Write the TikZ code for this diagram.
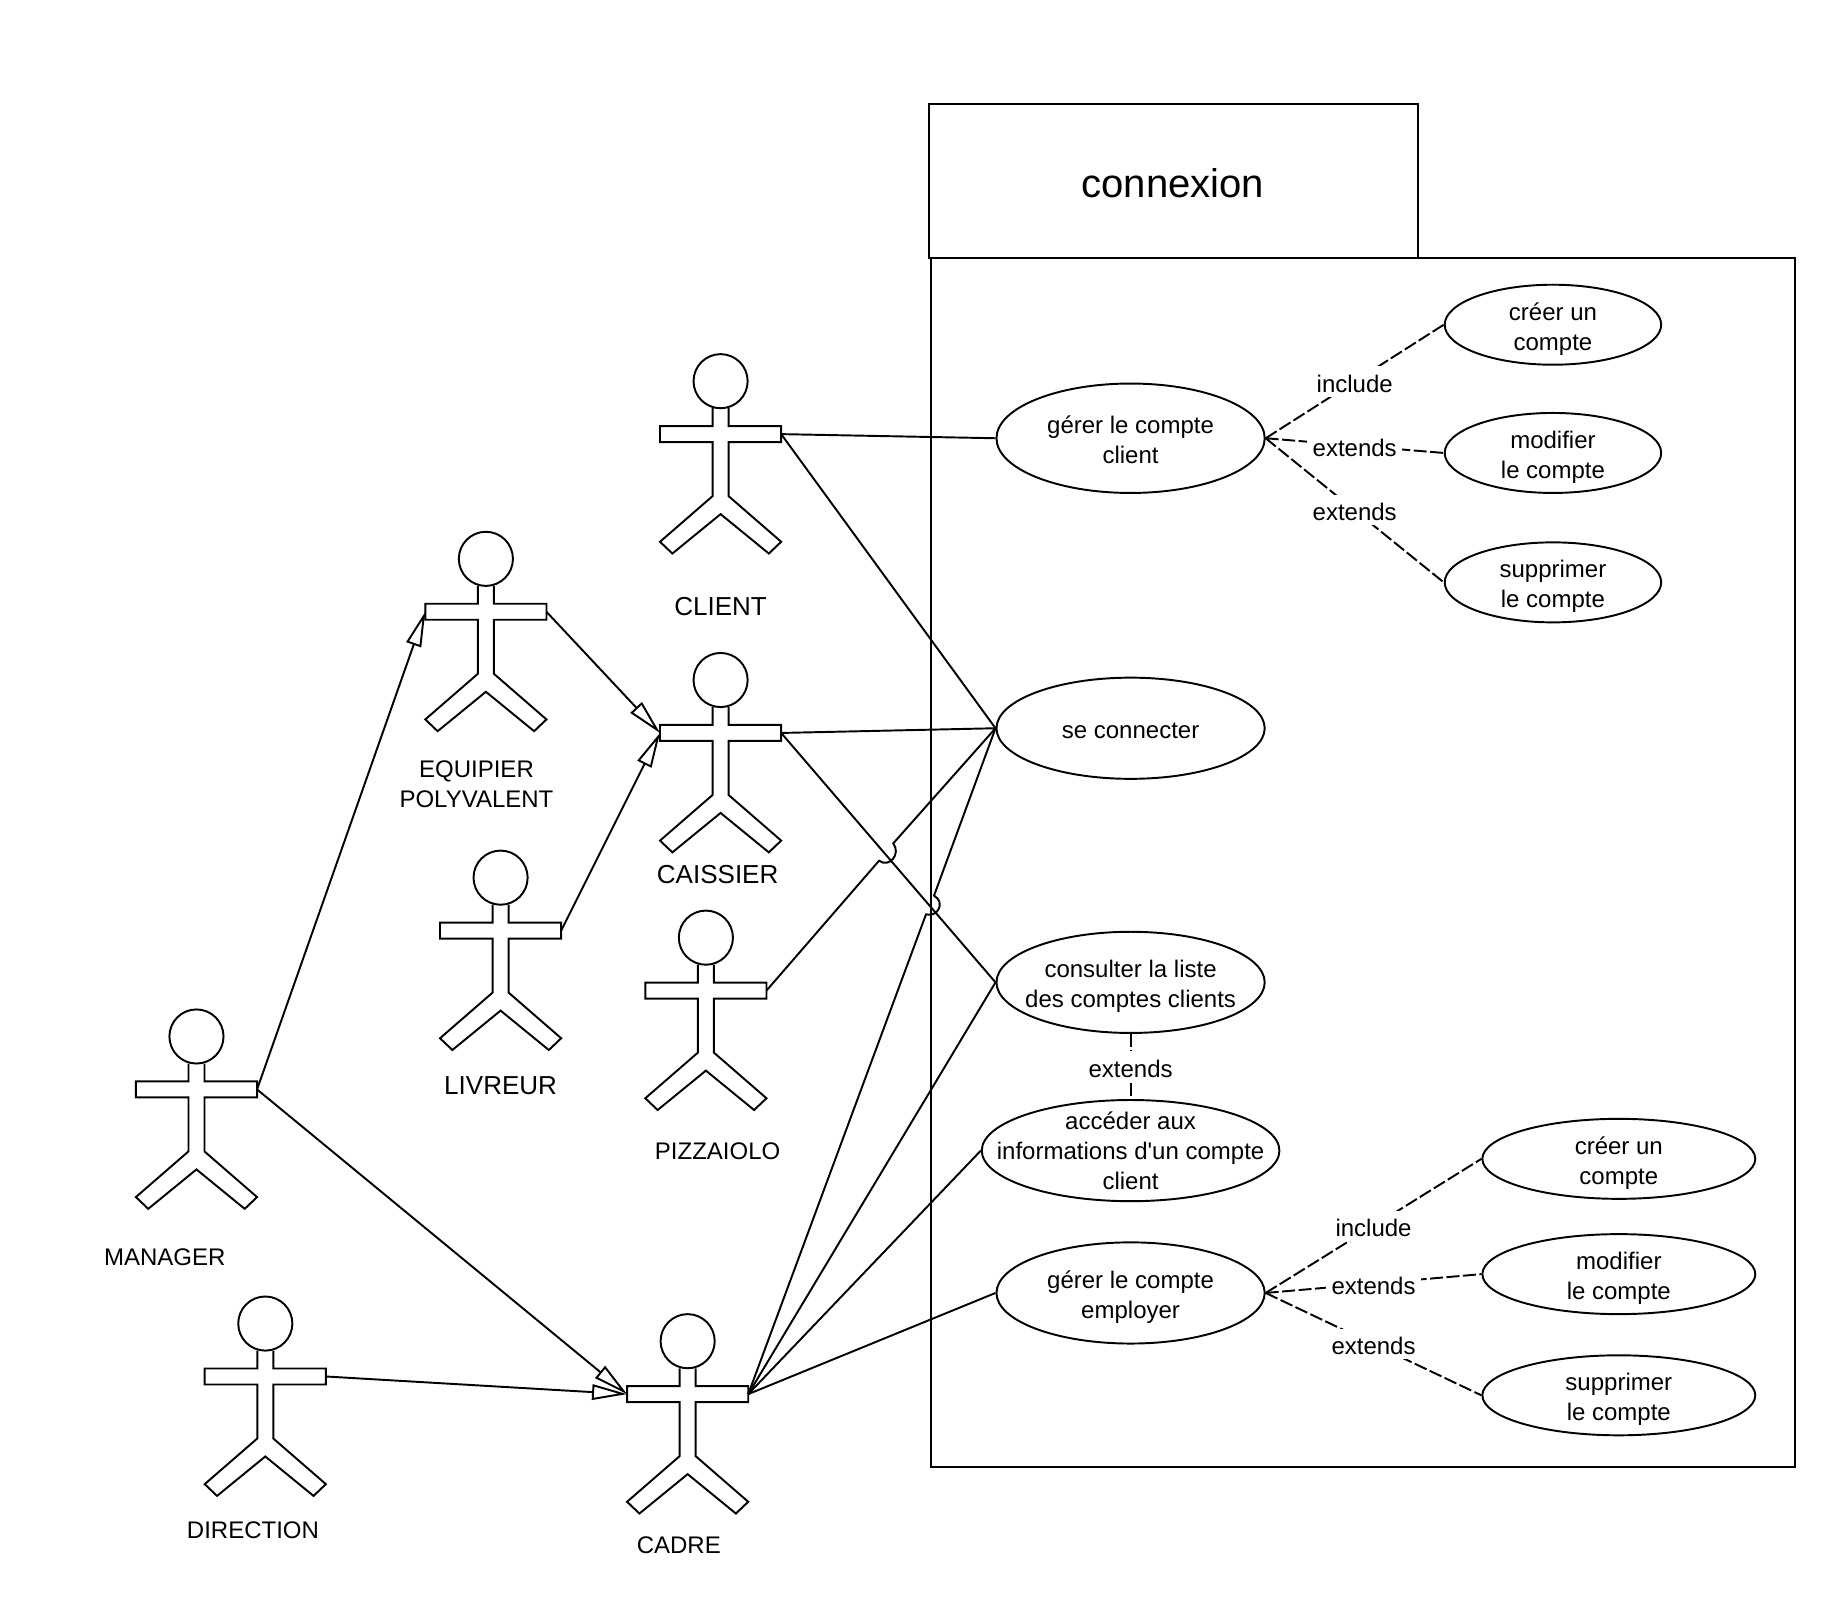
\documentclass[tikz,border=0pt]{standalone}
\usepackage{fontspec}
\setmainfont{Liberation Sans}
\newfontfamily\quotefont{Liberation Sans}
\usetikzlibrary{positioning, arrows.meta, shapes.geometric}

\def\dimu{0.011765cm}
\newcommand{\casefont}{\fontsize{6.83}{8.55}\selectfont}
\newcommand{\bigfont}{\fontsize{7.4}{8.8}\selectfont}
\newcommand{\tabfont}{\fontsize{11.4}{13}\selectfont}
\newcommand{\casetext}[2][1.3pt]{\raisebox{-#1}[\height][\depth]{\begin{tabular}{@{}c@{}}#2\end{tabular}}}

\tikzset{
    every path/.style={line width=0.55pt},
    usecase/.style={draw, ellipse, inner xsep=-1cm, inner ysep=-0.5cm, align=center, font=\casefont, minimum width=228*\dimu, minimum height=86*\dimu},
    subcase/.style={usecase, minimum width=184*\dimu, minimum height=68*\dimu},
    subcasewide/.style={usecase, minimum width=232*\dimu, minimum height=68*\dimu},
    actorlabel/.style={align=center, inner sep=0pt, font=\casefont},
    actorlabelbig/.style={actorlabel, font=\bigfont},
    linklabel/.style={fill=white, inner xsep=1.5pt, inner ysep=0pt, font=\casefont},
    depends/.style={dash pattern=on 0.13cm off 0.035cm},
    inherits/.style={-{Triangle[fill=white, length=0.35cm, width=0.155cm]}},
    pics/actor/.style={code={
        \draw (-6.8,-22) -- (-6.8,-6.8) -- (-51.5,-6.8) -- (-51.5,6.8) -- (-6.8,6.8) -- (-6.8,52.7)
            -- (-51.5,91.5) -- (-41,101.5) -- (0,68) -- (41,101.5) -- (51.5,91.5) -- (6.8,52.7)
            -- (6.8,6.8) -- (51.5,6.8) -- (51.5,-6.8) -- (6.8,-6.8) -- (6.8,-22);
        \draw (0,-45) circle (23);
        \coordinate (-l) at (-51.5,0);
        \coordinate (-r) at (51.5,0);
    }}
}

\begin{document}
\begin{tikzpicture}[x=\dimu, y=-\dimu]
    \useasboundingbox (0,0) rectangle (1567.4,1358.3);

    % package
    \node [draw, minimum width=415*\dimu, minimum height=131*\dimu] (tab) at (997.5,153.5) {};
    \node [font=\tabfont, inner sep=0pt] (tabtitle) at (997,155.5) {connexion};
    \node [draw, minimum width=735*\dimu, minimum height=1028*\dimu] (pack) at (1158.5,733) {};

    % actors
    \pic (client) at (612.5,369) {actor};
    \pic (equipier) at (413,520) {actor};
    \pic (caissier) at (612.5,623) {actor};
    \pic (livreur) at (425.5,791) {actor};
    \pic (pizzaiolo) at (600,842) {actor};
    \pic (manager) at (167,926) {actor};
    \pic (direction) at (225.5,1170) {actor};
    \pic (cadre) at (584.5,1185) {actor};

    \node [actorlabelbig] (clientlabel) at (612.5,515.5) {CLIENT};
    \node [actorlabel] (equipierlabel) at (405,666.5) {EQUIPIER\\POLYVALENT};
    \node [actorlabelbig] (caissierlabel) at (610,743.5) {CAISSIER};
    \node [actorlabelbig] (livreurlabel) at (425.5,923) {LIVREUR};
    \node [actorlabel] (pizzaiololabel) at (610,978.5) {PIZZAIOLO};
    \node [actorlabel] (managerlabel) at (140,1068.5) {MANAGER};
    \node [actorlabel] (directionlabel) at (215,1300.5) {DIRECTION};
    \node [actorlabel] (cadrelabel) at (577,1313.5) {CADRE};

    % use cases
    \node [usecase, minimum height=93*\dimu] (gererclient) at (961,372.5) {\casetext{gérer le compte\\client}};
    \node [usecase] (connecter) at (961,619) {\casetext{se connecter}};
    \node [usecase] (consulter) at (961,835) {\casetext{consulter la liste\\des comptes clients}};
    \node [usecase, minimum width=253*\dimu] (acceder) at (961,978) {\casetext[0.7pt]{accéder aux\\informations d{\quotefont'}un compte\\client}};
    \node [usecase] (gereremploye) at (961,1099) {\casetext{gérer le compte\\employer}};

    \node [subcase] (creerclient) at (1320,276) {\casetext{créer un\\compte}};
    \node [subcase] (modifclient) at (1320,385) {\casetext{modifier\\le compte}};
    \node [subcase] (supprclient) at (1320,495) {\casetext{supprimer\\le compte}};
    \node [subcasewide] (creeremploye) at (1376,985) {\casetext{créer un\\compte}};
    \node [subcasewide] (modifemploye) at (1376,1083) {\casetext{modifier\\le compte}};
    \node [subcasewide] (supremploye) at (1376,1186) {\casetext{supprimer\\le compte}};

    % inheritance
    \draw [inherits] (manager-r) -- (equipier-l);
    \draw [inherits] (equipier-r) -- (caissier-l);
    \draw [inherits] (livreur-r) -- (caissier-l);
    \draw [inherits] (manager-r) -- (cadre-l);
    \draw [inherits] (direction-r) -- (cadre-l);

    % associations
    \draw (client-r) -- (gererclient.west);
    \draw (client-r) -- (connecter.west);
    \draw (caissier-r) -- (connecter.west);
    \draw (caissier-r) -- (consulter.west);
    \draw (cadre-r) -- (consulter.west);
    \draw (cadre-r) -- (acceder.west);
    \draw (cadre-r) -- (gereremploye.west);

    % line jumps
    \coordinate (hopa) at (747.2,731.6);
    \coordinate (hopb) at (759.3,716.8);
    \coordinate (hopc) at (787.1,777.2);
    \coordinate (hopd) at (793.9,761.3);
    \draw (pizzaiolo-r) -- (hopa) .. controls (756,738) and (766,726) .. (hopb) -- (connecter.west);
    \draw (cadre-r) -- (hopc) .. controls (797,780) and (804,767) .. (hopd) -- (connecter.west);

    % include and extends
    \draw [depends] (gererclient.east) -- node [linklabel] {\casetext{include}} (creerclient.west);
    \draw [depends] (gererclient.east) -- node [linklabel] {\casetext{extends}} (modifclient.west);
    \draw [depends] (gererclient.east) -- node [linklabel] {\casetext{extends}} (supprclient.west);
    \draw [depends] (consulter.south) -- node [linklabel] {\casetext{extends}} (acceder.north);
    \draw [depends] (gereremploye.east) -- node [linklabel] {\casetext{include}} (creeremploye.west);
    \draw [depends] (gereremploye.east) -- node [linklabel] {\casetext{extends}} (modifemploye.west);
    \draw [depends] (gereremploye.east) -- node [linklabel] {\casetext{extends}} (supremploye.west);
\end{tikzpicture}
\end{document}
